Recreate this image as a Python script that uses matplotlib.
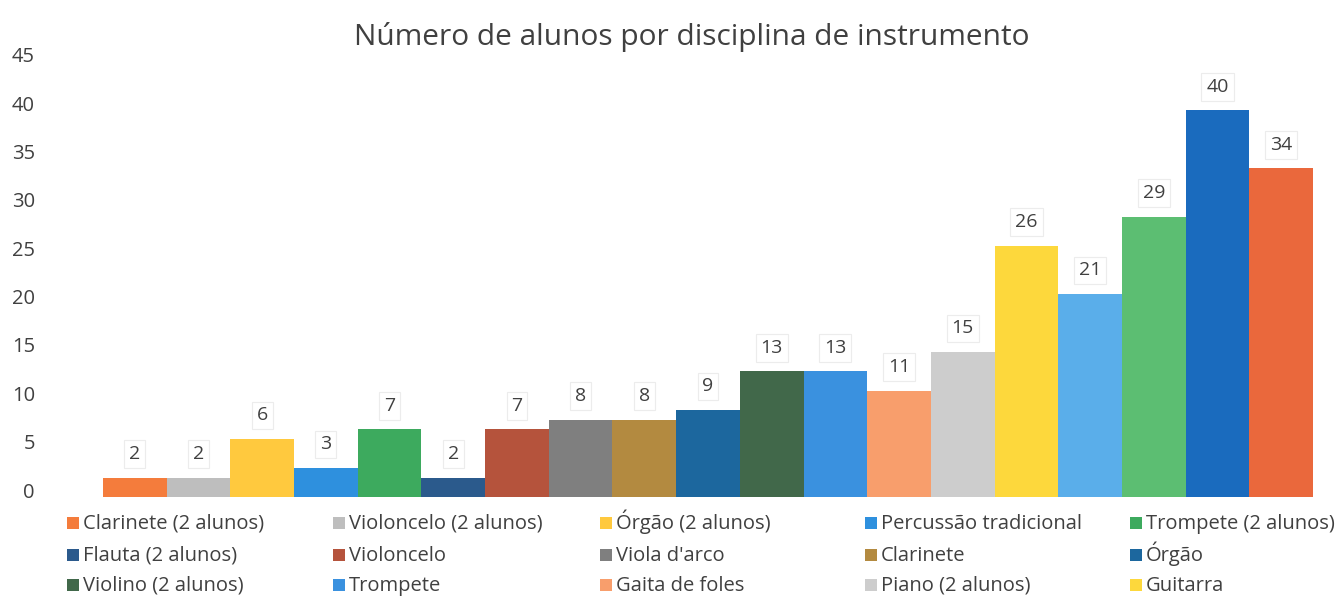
import matplotlib
matplotlib.use("Agg")
import matplotlib.pyplot as plt
import matplotlib.transforms as mtransforms
from matplotlib.patches import Rectangle

plt.rcParams["font.family"] = ["Open Sans", "DejaVu Sans"]

# one series per bar, in drawing order
series = ["Clarinete (2 alunos)", "Violoncelo (2 alunos)", "Órgão (2 alunos)",
          "Percussão tradicional", "Trompete (2 alunos)",
          "Flauta (2 alunos)", "Violoncelo", "Viola d'arco", "Clarinete", "Órgão",
          "Violino (2 alunos)", "Trompete", "Gaita de foles", "Piano (2 alunos)",
          "Guitarra",
          "Série 16", "Série 17", "Série 18", "Série 19"]
alunos = [2, 2, 6, 3, 7, 2, 7, 8, 8, 9, 13, 13, 11, 15, 26, 21, 29, 40, 34]
colors = ["#F47C3C", "#BEBEBE", "#FFC93E", "#2E90DE", "#3DAA5E",
          "#2B5A8C", "#B5533C", "#7F7F7F", "#B38A40", "#1C679E",
          "#41684A", "#3A91DF", "#F89E6C", "#CDCDCD", "#FDD83C",
          "#5AAEEA", "#5CBE72", "#1A6BBE", "#EA683C"]
n_legend = 15  # only the first 15 entries are visible in the legend

W, H = 1338, 596
fig = plt.figure(figsize=(W / 100, H / 100), dpi=100)
ax = fig.add_axes([103 / W, (H - 497) / H, 1210 / W, 435 / H])

for i, (name, val, col) in enumerate(zip(series, alunos, colors)):
    ax.bar(i, val, width=1.0, color=col, label=name)
    ax.annotate(str(val), (i, val), xytext=(0, 17), textcoords="offset points",
                ha="center", va="center", fontsize=14, color="#404040",
                bbox=dict(boxstyle="square,pad=0.25", fc="white", ec="#ececec", lw=0.8))

ax.set_xlim(-0.5, len(alunos) - 0.5)
ax.set_ylim(0, 45)
ax.set_yticks(range(0, 46, 5))
ax.set_xticks([])
ax.tick_params(axis="y", length=0, pad=49, labelsize=14.5, labelcolor="#404040")
for lbl in ax.get_yticklabels():
    lbl.set_transform(lbl.get_transform() + mtransforms.ScaledTranslation(0, 7 / 100, fig.dpi_scale_trans))
for s in ax.spines.values():
    s.set_visible(False)

fig.text(692 / W, 1 - 37 / H, "Número de alunos por disciplina de instrumento",
         ha="center", va="center", fontsize=21.5, color="#404040")

# legend: 5 equally spaced columns, 3 rows (row-major order)
col_x = [67, 333, 600, 865, 1130]
row_y = [523, 555, 585]
for k in range(n_legend):
    r, c = divmod(k, 5)
    x, y = col_x[c], row_y[r]
    fig.add_artist(Rectangle((x / W, 1 - (y + 6) / H), 12 / W, 12 / H,
                             transform=fig.transFigure, color=colors[k], lw=0))
    fig.text((x + 16) / W, 1 - (y + 6) / H, series[k], ha="left", va="baseline",
             fontsize=14.5, color="#404040")

fig.savefig("out.png", dpi=100, facecolor="white")
